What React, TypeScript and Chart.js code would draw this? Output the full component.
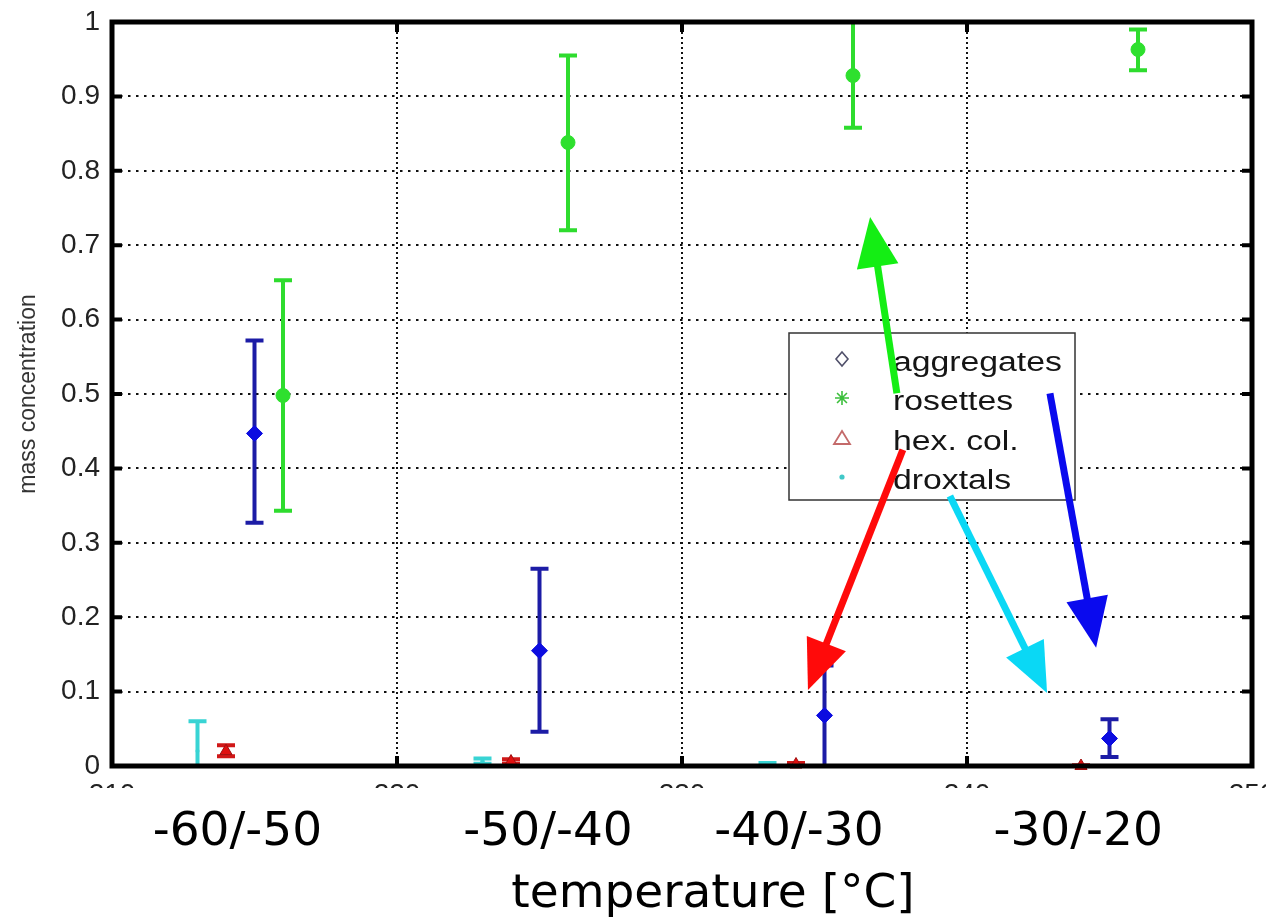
import React, { useEffect, useRef } from 'react';
import { Chart, registerables } from 'chart.js';

Chart.register(...registerables);

// ---------- data ----------
const seriesNames = ['aggregates', 'rosettes', 'hex. col.', 'droxtals'];

const aggX = [215, 225, 235, 245];
const aggY = [0.447, 0.155, 0.068, 0.037];
const aggLo = [0.327, 0.046, 0.0, 0.012];
const aggHi = [0.572, 0.265, 0.135, 0.063];

const rosX = [216, 226, 236, 246];
const rosY = [0.498, 0.838, 0.928, 0.963];
const rosLo = [0.343, 0.72, 0.858, 0.935];
const rosHi = [0.653, 0.955, 1.02, 0.99];

const hexX = [214, 224, 234, 244];
const hexY = [0.02, 0.006, 0.002, 0.0];
const hexLo = [0.013, 0.003, 0.0, 0.0];
const hexHi = [0.028, 0.009, 0.004, 0.001];

const droX = [213, 223, 233, 243];
const droY = [0.02, 0.006, 0.003, 0.0];
const droLo = [0.0, 0.003, 0.002, 0.0];
const droHi = [0.06, 0.01, 0.004, 0.0];

const xTickValues = [210, 220, 230, 240, 250];
const xTickLabels = ['210', '220', '230', '240', '250'];
const yTickValues = [0, 0.1, 0.2, 0.3, 0.4, 0.5, 0.6, 0.7, 0.8, 0.9, 1];
const yTickLabels = ['0', '0.1', '0.2', '0.3', '0.4', '0.5', '0.6', '0.7', '0.8', '0.9', '1'];

const rangeLabels = ['-60/-50', '-50/-40', '-40/-30', '-30/-20'];
const rangeLabelAt = [214.4, 225.3, 234.1, 243.9];
const xTitle = 'temperature [°C]';
const yTitle = 'mass concentration';

// annotation arrows (data units): [tailX, tailY, tipX, tipY]
const arrowTails = [[237.54, 0.501], [237.75, 0.425], [239.4, 0.363], [242.91, 0.501]];
const arrowTips = [[236.6, 0.738], [234.42, 0.102], [242.81, 0.098], [244.53, 0.159]];
const arrowColors = ['#14ee14', '#ff0a0a', '#0ad8f5', '#0a0aee'];

// ---------- styles ----------
const barColors = ['#1c1ca6', '#2edc2e', '#d01818', '#38d4d4'];
const markColors = ['#0c0ce0', '#2ee02e', '#e01010', '#38d4d4'];

const decor = {
  id: 'decor',
  beforeDraw(chart: any) {
    const { ctx, width, height } = chart;
    ctx.save();
    ctx.fillStyle = '#fff';
    ctx.fillRect(0, 0, width, height);
    ctx.restore();
  },
  beforeDatasetsDraw(chart: any) {
    const { ctx, chartArea, scales } = chart;
    const xs = scales.x, ys = scales.y;
    const groups = [
      [aggX, aggLo, aggHi],
      [rosX, rosLo, rosHi],
      [hexX, hexLo, hexHi],
      [droX, droLo, droHi],
    ];
    ctx.save();
    ctx.beginPath();
    ctx.rect(chartArea.left, chartArea.top - 2, chartArea.right - chartArea.left, chartArea.bottom - chartArea.top + 2);
    ctx.clip();
    groups.forEach((g, gi) => {
      const [X, L, H] = g as number[][];
      ctx.strokeStyle = barColors[gi];
      ctx.lineWidth = 4;
      ctx.lineCap = 'butt';
      X.forEach((xv, i) => {
        const px = xs.getPixelForValue(xv);
        const pl = ys.getPixelForValue(L[i]);
        const ph = ys.getPixelForValue(H[i]);
        if (Math.abs(pl - ph) < 0.5) return;
        ctx.beginPath();
        ctx.moveTo(px, pl);
        ctx.lineTo(px, ph);
        ctx.moveTo(px - 9, pl);
        ctx.lineTo(px + 9, pl);
        ctx.moveTo(px - 9, ph);
        ctx.lineTo(px + 9, ph);
        ctx.stroke();
      });
    });
    ctx.restore();
  },
  afterDatasetsDraw(chart: any) {
    const { ctx, chartArea, scales } = chart;
    const { left, right, top, bottom } = chartArea;
    const xs = scales.x, ys = scales.y;
    ctx.save();
    // frame
    ctx.strokeStyle = '#000';
    ctx.lineWidth = 5;
    ctx.strokeRect(left, top, right - left, bottom - top);
    // inner tick marks
    ctx.lineWidth = 4;
    ctx.beginPath();
    yTickValues.forEach((v) => {
      const py = ys.getPixelForValue(v);
      ctx.moveTo(left, py); ctx.lineTo(left + 10, py);
      ctx.moveTo(right, py); ctx.lineTo(right - 10, py);
    });
    xTickValues.forEach((v) => {
      const px = xs.getPixelForValue(v);
      ctx.moveTo(px, bottom); ctx.lineTo(px, bottom - 10);
      ctx.moveTo(px, top); ctx.lineTo(px, top + 10);
    });
    ctx.stroke();

    // legend box
    const lx = 789, ly = 333, lw = 286, lh = 167;
    ctx.fillStyle = '#fff';
    ctx.fillRect(lx, ly, lw, lh);
    ctx.strokeStyle = '#333';
    ctx.lineWidth = 1.5;
    ctx.strokeRect(lx, ly, lw, lh);
    const baselines = [371, 410, 450, 489];
    const mx = 842;
    seriesNames.forEach((name, i) => {
      const b = baselines[i];
      const my = b - 12;
      ctx.save();
      if (i === 0) {
        ctx.strokeStyle = '#50506a';
        ctx.lineWidth = 1.6;
        ctx.beginPath();
        ctx.moveTo(mx, my - 7); ctx.lineTo(mx + 6, my); ctx.lineTo(mx, my + 7); ctx.lineTo(mx - 6, my); ctx.closePath();
        ctx.stroke();
      } else if (i === 1) {
        ctx.strokeStyle = '#3cbf3c';
        ctx.lineWidth = 1.6;
        ctx.beginPath();
        for (let k = 0; k < 4; k++) {
          const a = (k * Math.PI) / 4;
          ctx.moveTo(mx - 7 * Math.cos(a), my - 7 * Math.sin(a));
          ctx.lineTo(mx + 7 * Math.cos(a), my + 7 * Math.sin(a));
        }
        ctx.stroke();
      } else if (i === 2) {
        ctx.strokeStyle = '#c46a6a';
        ctx.lineWidth = 1.8;
        ctx.beginPath();
        ctx.moveTo(mx, my - 7); ctx.lineTo(mx + 8, my + 6); ctx.lineTo(mx - 8, my + 6); ctx.closePath();
        ctx.stroke();
      } else {
        ctx.fillStyle = '#40c8c8';
        ctx.beginPath();
        ctx.arc(mx, my, 2.6, 0, Math.PI * 2);
        ctx.fill();
      }
      ctx.restore();
      ctx.save();
      ctx.translate(893, b);
      ctx.scale(1.25, 1);
      ctx.fillStyle = '#151515';
      ctx.font = '27px "Liberation Sans", Arial, sans-serif';
      ctx.textAlign = 'left';
      ctx.textBaseline = 'alphabetic';
      ctx.fillText(name, 0, 0);
      ctx.restore();
    });

    // arrows
    arrowTails.forEach((t, i) => {
      const x1 = xs.getPixelForValue(t[0]);
      const y1 = ys.getPixelForValue(t[1]);
      const x2 = xs.getPixelForValue(arrowTips[i][0]);
      const y2 = ys.getPixelForValue(arrowTips[i][1]);
      const ang = Math.atan2(y2 - y1, x2 - x1);
      const headLen = 50, headW = 21;
      const bx = x2 - headLen * Math.cos(ang);
      const by = y2 - headLen * Math.sin(ang);
      ctx.strokeStyle = arrowColors[i];
      ctx.fillStyle = arrowColors[i];
      ctx.lineWidth = 7;
      ctx.lineCap = 'butt';
      ctx.beginPath();
      ctx.moveTo(x1, y1);
      ctx.lineTo(bx + 2 * Math.cos(ang), by + 2 * Math.sin(ang));
      ctx.stroke();
      ctx.beginPath();
      ctx.moveTo(x2, y2);
      ctx.lineTo(bx + headW * Math.sin(ang), by - headW * Math.cos(ang));
      ctx.lineTo(bx - headW * Math.sin(ang), by + headW * Math.cos(ang));
      ctx.closePath();
      ctx.fill();
    });
    ctx.restore();
  },
  afterDraw(chart: any) {
    const { ctx, width, height, scales } = chart;
    const xs = scales.x;
    ctx.save();
    ctx.fillStyle = '#fff';
    ctx.fillRect(0, 788, width, height - 788);
    ctx.fillStyle = '#000';
    ctx.font = '47px "DejaVu Sans", sans-serif';
    ctx.textAlign = 'center';
    ctx.textBaseline = 'alphabetic';
    rangeLabels.forEach((lab, i) => {
      ctx.fillText(lab, xs.getPixelForValue(rangeLabelAt[i]), 845);
    });
    ctx.fillText(xTitle, 713, 907);
    ctx.restore();
  },
};

export default function App() {
  const ref = useRef<HTMLCanvasElement | null>(null);
  useEffect(() => {
    if (!ref.current) return;
    const mk = (X: number[], Y: number[]) => X.map((x, i) => ({ x, y: Y[i] }));
    const chart = new Chart(ref.current, {
      type: 'scatter',
      data: {
        datasets: [
          { label: seriesNames[0], data: mk(aggX, aggY), pointStyle: 'rectRot', pointRadius: 8, backgroundColor: markColors[0], borderColor: markColors[0], borderWidth: 1, clip: false },
          { label: seriesNames[1], data: mk(rosX, rosY), pointStyle: 'circle', pointRadius: 7, backgroundColor: markColors[1], borderColor: markColors[1], borderWidth: 1, clip: false },
          { label: seriesNames[2], data: mk(hexX, hexY), pointStyle: 'triangle', pointRadius: 7, backgroundColor: markColors[2], borderColor: '#a01010', borderWidth: 1, clip: false },
          { label: seriesNames[3], data: mk(droX, droY), pointStyle: 'circle', pointRadius: 2, backgroundColor: markColors[3], borderColor: markColors[3], borderWidth: 0, clip: false },
        ] as any,
      },
      options: {
        animation: false,
        responsive: false,
        maintainAspectRatio: false,
        layout: { autoPadding: false, padding: { top: 22, right: 14, left: 0, bottom: 0 } },
        plugins: { legend: { display: false }, tooltip: { enabled: false } },
        scales: {
          x: {
            type: 'linear',
            min: 210,
            max: 250,
            afterBuildTicks: (s: any) => { s.ticks = xTickValues.map((v) => ({ value: v })); },
            afterFit: (s: any) => {
              s.height = 157;
              s.paddingLeft = 0; s.paddingRight = 0; s.paddingTop = 0; s.paddingBottom = 0;
            },
            ticks: {
              callback: (_v: any, i: number) => xTickLabels[i],
              font: { family: '"Liberation Sans", Arial, sans-serif', size: 28 },
              color: '#222',
              padding: 12,
              maxRotation: 0,
              autoSkip: false,
            },
            grid: { color: '#111', lineWidth: 2, drawTicks: false },
            border: { display: false, dash: [2, 3] },
          },
          y: {
            type: 'linear',
            min: 0,
            max: 1,
            afterBuildTicks: (s: any) => { s.ticks = yTickValues.map((v) => ({ value: v })); },
            afterFit: (s: any) => {
              s.width = 112;
              s.paddingLeft = 0; s.paddingRight = 0; s.paddingTop = 0; s.paddingBottom = 0;
            },
            ticks: {
              callback: (_v: any, i: number) => yTickLabels[i],
              font: { family: '"Liberation Sans", Arial, sans-serif', size: 28 },
              color: '#222',
              padding: 12,
              autoSkip: false,
            },
            grid: { color: '#111', lineWidth: 2, drawTicks: false },
            border: { display: false, dash: [2.5, 5.5] },
            title: {
              display: true,
              text: yTitle,
              font: { family: '"Liberation Sans", Arial, sans-serif', size: 23 },
              color: '#333',
              padding: { top: 15, bottom: 0 },
            },
          },
        },
      } as any,
      plugins: [decor],
    });
    return () => chart.destroy();
  }, []);
  return (
    <div style={{ position: 'fixed', left: 0, top: 0, width: 1266, height: 923, background: '#fff' }}>
      <canvas ref={ref} width={1266} height={923} style={{ display: 'block', width: 1266, height: 923 }} />
    </div>
  );
}
